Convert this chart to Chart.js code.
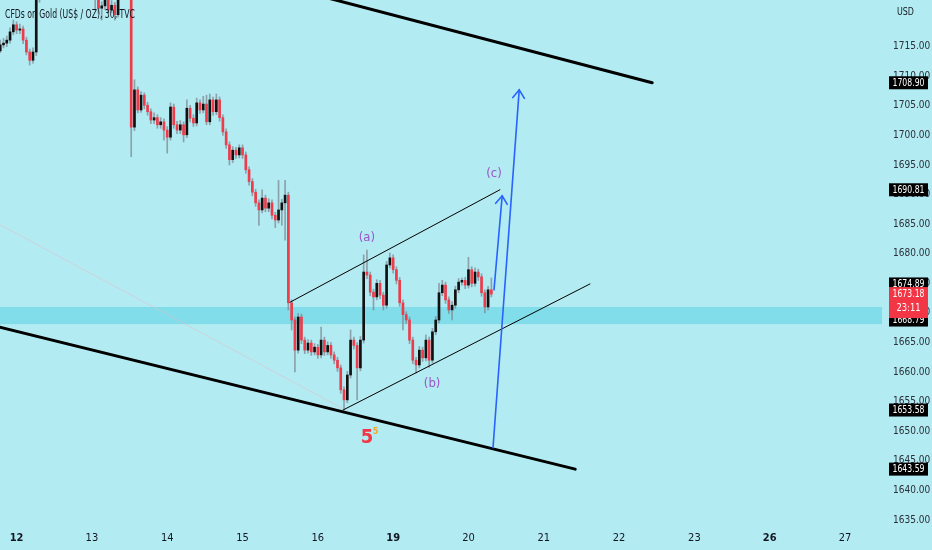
<!DOCTYPE html>
<html><head><meta charset="utf-8">
<script src="https://cdn.jsdelivr.net/npm/chart.js@4.4.1/dist/chart.umd.min.js"></script>
<style>html,body{margin:0;padding:0;background:#b2ebf2;overflow:hidden}canvas{display:block}</style>
</head><body>
<canvas id="c" width="932" height="550"></canvas>
<script>
const title = 'CFDs on Gold (US$ / OZ), 30, TVC';
const firstBar = -5;
const opens = [
1714.3,1715.3,1715.6,1716.1,1717.5,1718.7,1717.8,1718.0,1716.1,1714.1,
1712.7,1714.1,1724.9,1724.0,1726.0,1727.5,1729.0,1728.0,1730.5,1731.8,
1730.0,1732.5,1733.8,1731.5,1729.5,1730.8,1728.5,1727.0,1726.0,1725.0,
1723.5,1721.5,1721.9,1722.9,1721.2,1722.0,1720.4,1723.7,1725.0,1726.0,
1725.2,1701.4,1707.7,1704.3,1706.8,1705.1,1704.0,1702.6,1703.0,1701.8,
1702.3,1700.9,1699.7,1704.8,1701.8,1700.9,1701.8,1700.1,1704.6,1702.9,
1702.1,1705.5,1704.3,1705.3,1702.3,1706.0,1704.0,1706.0,1703.0,1700.6,
1698.4,1695.9,1697.5,1696.7,1697.9,1696.7,1694.2,1692.2,1690.4,1688.6,
1687.4,1689.4,1687.7,1688.6,1686.5,1685.7,1687.4,1688.6,1689.9,1671.7,
1668.8,1663.7,1669.3,1665.4,1663.7,1664.9,1663.4,1664.2,1662.9,1665.4,
1663.4,1664.5,1662.9,1662.0,1660.7,1657.0,1655.3,1659.5,1665.4,1664.5,
1660.7,1665.4,1676.9,1676.4,1673.5,1672.7,1675.0,1673.0,1671.3,1678.1,
1679.3,1677.3,1675.5,1671.7,1669.7,1668.8,1665.4,1662.0,1661.2,1663.7,
1662.4,1665.4,1662.0,1666.8,1668.8,1673.4,1674.7,1672.2,1670.5,1671.3,
1673.9,1675.2,1675.5,1674.7,1677.3,1675.0,1676.9,1676.1,1673.4,1671.0,1673.9];
const highs = [
1716.1,1716.4,1716.8,1718.2,1719.5,1719.2,1718.8,1718.5,1716.6,1714.6,
1714.8,1725.6,1726.0,1726.8,1728.3,1729.8,1729.6,1731.2,1732.6,1732.4,
1733.2,1734.5,1734.3,1732.0,1731.5,1731.3,1729.0,1727.6,1726.6,1725.6,
1724.1,1722.6,1723.6,1723.5,1722.8,1722.5,1724.3,1725.7,1726.7,1726.5,
1725.8,1709.4,1708.2,1707.4,1707.2,1705.6,1704.5,1703.8,1703.5,1703.0,
1702.8,1701.5,1705.5,1705.3,1702.4,1702.5,1702.3,1706.0,1705.1,1703.5,
1706.3,1706.0,1706.6,1706.8,1707.0,1706.5,1707.0,1706.5,1703.5,1701.1,
1698.9,1698.1,1698.0,1698.4,1698.4,1697.2,1694.7,1692.7,1690.9,1689.1,
1690.8,1689.9,1689.3,1689.1,1687.0,1692.4,1689.2,1692.4,1690.4,1672.2,
1669.3,1669.9,1669.8,1665.9,1665.5,1665.4,1664.8,1664.7,1667.6,1665.9,
1665.1,1665.0,1663.4,1662.5,1661.2,1657.5,1660.1,1667.1,1665.9,1665.0,
1666.0,1679.8,1680.6,1676.9,1674.0,1675.6,1675.5,1673.5,1678.7,1680.1,
1679.8,1677.8,1676.0,1672.2,1670.2,1669.3,1665.9,1662.5,1664.3,1664.2,
1666.3,1665.9,1667.4,1669.4,1675.0,1675.5,1675.2,1672.7,1671.9,1674.5,
1675.8,1675.9,1676.0,1679.4,1677.8,1677.6,1677.4,1676.6,1673.9,1674.5,1675.9];
const lows = [
1714.0,1714.8,1715.0,1715.6,1717.0,1717.2,1717.2,1715.5,1713.6,1711.9,
1712.2,1713.5,1722.5,1723.6,1725.3,1726.9,1727.3,1727.4,1729.8,1729.3,
1729.5,1731.9,1730.8,1728.8,1728.9,1727.8,1726.3,1725.3,1723.6,1721.2,
1720.6,1719.5,1721.3,1720.6,1720.7,1719.5,1720.0,1723.2,1724.4,1724.3,
1696.4,1700.8,1703.8,1703.9,1704.5,1703.4,1702.0,1702.0,1701.2,1701.2,
1699.2,1697.0,1699.2,1701.2,1700.3,1700.3,1698.9,1699.6,1702.3,1701.5,
1701.6,1703.7,1703.8,1701.8,1701.8,1703.4,1703.5,1702.4,1700.0,1697.8,
1695.0,1695.4,1696.1,1696.2,1696.1,1693.6,1691.6,1689.8,1688.0,1684.8,
1686.9,1687.1,1687.1,1685.9,1684.4,1685.2,1684.8,1682.3,1670.5,1667.1,
1660.0,1663.2,1664.8,1663.1,1663.2,1662.8,1662.9,1662.3,1662.4,1662.8,
1662.9,1662.3,1661.4,1660.1,1656.4,1653.6,1654.8,1659.0,1663.9,1655.3,
1660.2,1664.9,1675.8,1672.9,1670.5,1672.2,1672.4,1670.5,1670.8,1677.6,
1676.7,1674.9,1671.1,1667.1,1668.2,1664.8,1661.4,1659.8,1660.7,1661.8,
1661.9,1660.8,1661.5,1666.3,1668.3,1672.9,1671.6,1669.9,1668.8,1670.8,
1673.4,1674.7,1674.1,1674.2,1674.4,1674.5,1675.5,1672.8,1670.0,1670.5,1672.7];
const closes = [
1715.3,1715.6,1716.1,1717.5,1718.7,1717.8,1718.0,1716.1,1714.1,1712.7,
1714.1,1724.9,1724.0,1726.0,1727.5,1729.0,1728.0,1730.5,1731.8,1730.0,
1732.5,1733.8,1731.5,1729.5,1730.8,1728.5,1727.0,1726.0,1725.0,1723.5,
1721.5,1721.9,1722.9,1721.2,1722.0,1720.4,1723.7,1725.0,1726.0,1725.2,
1701.4,1707.7,1704.3,1706.8,1705.1,1704.0,1702.6,1703.0,1701.8,1702.3,
1700.9,1699.7,1704.8,1701.8,1700.9,1701.8,1700.1,1704.6,1702.9,1702.1,
1705.5,1704.3,1705.3,1702.3,1706.0,1704.0,1706.0,1703.0,1700.6,1698.4,
1695.9,1697.5,1696.7,1697.9,1696.7,1694.2,1692.2,1690.4,1688.6,1687.4,
1689.4,1687.7,1688.6,1686.5,1685.7,1687.4,1688.6,1689.9,1671.7,1668.8,
1663.7,1669.3,1665.4,1663.7,1664.9,1663.4,1664.2,1662.9,1665.4,1663.4,
1664.5,1662.9,1662.0,1660.7,1657.0,1655.3,1659.5,1665.4,1664.5,1660.7,
1665.4,1676.9,1676.4,1673.5,1672.7,1675.0,1673.0,1671.3,1678.1,1679.3,
1677.3,1675.5,1671.7,1669.7,1668.8,1665.4,1662.0,1661.2,1663.7,1662.4,
1665.4,1662.0,1666.8,1668.8,1673.4,1674.7,1672.2,1670.5,1671.3,1673.9,
1675.2,1675.5,1674.7,1677.3,1675.0,1676.9,1676.1,1673.4,1671.0,1673.9,1673.18];

const dayLabels = ['12','13','14','15','16','19','20','21','22','23','26','27'];
const dayBars   = [0,23,46,69,92,115,138,161,184,207,230,253];
const weekStartDays = ['12','19','26'];
const priceTicks = [1635,1640,1645,1650,1655,1660,1665,1670,1675,1680,1685,1690,1695,1700,1705,1710,1715];
const zone = [1668.1, 1671.0];
const markedPrices = [1708.90, 1690.81, 1653.58, 1643.59, 1674.89, 1668.79];
const lastPrice = 1673.18;
const countdown = '23:11';
const trendLines = [
  {from:[60,1728.3],   to:[194.1,1708.90], width:3,   color:'#000000'},
  {from:[-6,1667.7],   to:[170.6,1643.59], width:3,   color:'#000000'},
  {from:[-5.1,1684.9], to:[99.7,1653.8],   width:1,   color:'rgba(230,190,200,0.55)'},
  {from:[83.5,1671.8], to:[147.6,1690.81], width:1,   color:'#000000'},
  {from:[99.7,1653.58],to:[175.1,1674.89], width:1,   color:'#000000'}
];
const arrows = [
  {from:[145.5,1647.2], to:[153.5,1707.7]},
  {from:[145.8,1673.9], to:[148.3,1689.8]}
];
const waveLabels = [
  {text:'(a)', at:[107.0,1682.7], color:'#9b55c9', font:'13px "DejaVu Sans Condensed", sans-serif'},
  {text:'(b)', at:[126.9,1658.0], color:'#9b55c9', font:'13px "DejaVu Sans Condensed", sans-serif'},
  {text:'(c)', at:[145.8,1693.5], color:'#9b55c9', font:'13px "DejaVu Sans Condensed", sans-serif'},
  {text:'5',   at:[107.0,1648.9], color:'#f23645', font:'bold 20px "DejaVu Sans Condensed", sans-serif'},
  {text:'5',   at:[109.6,1650.0], color:'#f5a623', font:'bold 9px "DejaVu Sans Condensed", sans-serif'}
];

const UP = '#111111', DOWN = '#ef3b4a', WICK = 'rgba(125,130,140,0.7)';
const BG = '#b2ebf2';
const AXIS_FONT = '"DejaVu Sans Condensed","Liberation Sans",sans-serif';

const wickData = closes.map((c,k)=>({x:firstBar+k, y:[lows[k], highs[k]]}));
const bodyData = closes.map((c,k)=>({x:firstBar+k, y:[opens[k], c]}));
const candleColor = ctx => closes[ctx.dataIndex] >= opens[ctx.dataIndex] ? UP : DOWN;

const overlay = {
  id:'overlay',
  beforeDraw(chart){
    const c = chart.ctx; c.save(); c.fillStyle = BG; c.fillRect(0,0,chart.width,chart.height); c.restore();
  },
  beforeDatasetsDraw(chart){
    const {ctx, chartArea:a, scales:{y}} = chart;
    const y1 = y.getPixelForValue(zone[1]), y0 = y.getPixelForValue(zone[0]);
    ctx.save(); ctx.fillStyle = 'rgba(0,188,212,0.28)';
    ctx.fillRect(a.left, y1, a.right-a.left, y0-y1); ctx.restore();
  },
  afterDatasetsDraw(chart){
    const {ctx, chartArea:a, scales:{x,y}} = chart;
    const P = p => [x.getPixelForValue(p[0]), y.getPixelForValue(p[1])];
    ctx.save();
    ctx.beginPath(); ctx.rect(a.left, a.top, a.right-a.left, a.bottom-a.top); ctx.clip();
    ctx.lineCap = 'round';
    trendLines.forEach(l=>{
      const s=P(l.from), e=P(l.to);
      ctx.strokeStyle=l.color; ctx.lineWidth=l.width;
      ctx.beginPath(); ctx.moveTo(s[0],s[1]); ctx.lineTo(e[0],e[1]); ctx.stroke();
    });
    arrows.forEach(ar=>{
      const s=P(ar.from), e=P(ar.to);
      ctx.strokeStyle='#2962ff'; ctx.lineWidth=1.6;
      ctx.beginPath(); ctx.moveTo(s[0],s[1]); ctx.lineTo(e[0],e[1]); ctx.stroke();
      const ang=Math.atan2(e[1]-s[1], e[0]-s[0]), L=10, sp=0.62;
      ctx.beginPath();
      ctx.moveTo(e[0]-L*Math.cos(ang-sp), e[1]-L*Math.sin(ang-sp));
      ctx.lineTo(e[0],e[1]);
      ctx.lineTo(e[0]-L*Math.cos(ang+sp), e[1]-L*Math.sin(ang+sp));
      ctx.stroke();
    });
    ctx.textAlign='center'; ctx.textBaseline='middle';
    waveLabels.forEach(t=>{
      const p=P(t.at); ctx.font=t.font; ctx.fillStyle=t.color; ctx.fillText(t.text,p[0],p[1]);
    });
    ctx.restore();
  },
  afterDraw(chart){
    const {ctx, chartArea:a, scales:{y}} = chart;
    ctx.save();
    ctx.font = '13px "DejaVu Sans Condensed", sans-serif';
    ctx.fillStyle = '#131722'; ctx.textAlign='left'; ctx.textBaseline='middle';
    ctx.fillText(title, 5, 15, 130);
    ctx.font = '10px ' + AXIS_FONT; ctx.fillStyle='#131722';
    ctx.fillText('USD', 897, 12, 17);
    const bx = a.right + 7, bw = 39;
    ctx.textAlign='center';
    markedPrices.forEach(v=>{
      const py = y.getPixelForValue(v);
      ctx.fillStyle='#000'; ctx.fillRect(bx, py-6.5, bw, 13);
      ctx.fillStyle='#fff'; ctx.font='11px '+AXIS_FONT; ctx.fillText(v.toFixed(2), bx+bw/2, py+0.5, 32);
    });
    const ly = y.getPixelForValue(lastPrice);
    ctx.fillStyle='#f23645'; ctx.fillRect(bx, ly-7, bw, 31);
    ctx.fillStyle='#fff'; ctx.font='11px '+AXIS_FONT;
    ctx.fillText(lastPrice.toFixed(2), bx+bw/2, ly, 32);
    ctx.fillText(countdown, bx+bw/2, ly+14, 24);
    ctx.restore();
  }
};

new Chart(document.getElementById('c'), {
  type:'bar',
  data:{datasets:[
    {data:wickData, backgroundColor:WICK, barThickness:1, grouped:false, order:2},
    {data:bodyData, backgroundColor:candleColor, barThickness:2, grouped:false, minBarLength:1, order:1}
  ]},
  options:{
    responsive:false, animation:false, devicePixelRatio:1,
    layout:{padding:0},
    plugins:{legend:{display:false}, tooltip:{enabled:false}},
    scales:{
      x:{type:'linear', min:-5.07, max:264.3, offset:false,
         grid:{display:false, drawTicks:false}, border:{display:false},
         afterBuildTicks:s=>{ s.ticks = dayBars.map(v=>({value:v})); },
         afterFit:s=>{ s.height=28; s.paddingLeft=0; s.paddingRight=0; },
         ticks:{autoSkip:false, maxRotation:0, padding:10, color:'#131722',
           callback:(v,i)=>dayLabels[i],
           font:ctx=>({family:AXIS_FONT, size:11, weight: weekStartDays.includes(dayLabels[ctx.index]) ? 'bold':'normal'})}
      },
      y:{type:'linear', position:'right', min:1634.65, max:1722.89,
         grid:{display:false, drawTicks:false}, border:{display:false},
         afterBuildTicks:s=>{ s.ticks = priceTicks.map(v=>({value:v})); },
         afterFit:s=>{ s.width=50; s.paddingTop=0; s.paddingBottom=0; },
         ticks:{autoSkip:false, padding:11, color:'#2a2e39', font:{family:AXIS_FONT, size:10},
           callback:v=>Number(v).toFixed(2)}
      }
    }
  },
  plugins:[overlay]
});
</script>
</body></html>
